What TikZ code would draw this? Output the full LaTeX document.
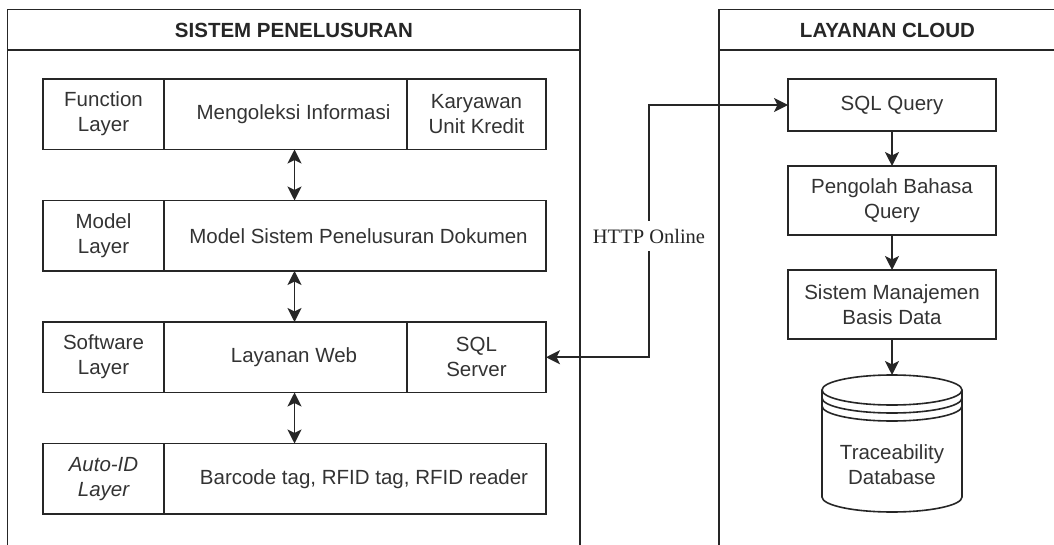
\documentclass[tikz,border=0pt]{standalone}
\usepackage{fontspec}
\setmainfont{Liberation Sans}
\newfontfamily\timesfont{Liberation Serif}
\usetikzlibrary{positioning,calc,arrows.meta}
\tikzset{
  lane/.style={line width=1.6pt,draw=black!85},
  blok/.style={draw=black!85,line width=1.6pt,anchor=north west,inner sep=0pt,outer sep=0pt},
  teks/.style={align=center,text=black!80,font=\fontsize{20.5}{25}\selectfont},
  judul/.style={text=black!85,font=\fontsize{20.5}{25}\selectfont\bfseries},
  httplabel/.style={fill=white,text=black!85,inner ysep=8pt,inner xsep=2pt,font=\timesfont\fontsize{20.5}{25}\selectfont},
  panah/.style={line width=1.6pt,draw=black!85,arrows={-Stealth[length=14pt,width=14pt,inset=3.5pt]}},
  panah2/.style={line width=1.6pt,draw=black!85,arrows={Stealth[length=14pt,width=14pt,inset=3.5pt]-Stealth[length=14pt,width=14pt,inset=3.5pt]}},
}

\begin{document}
\begin{tikzpicture}[x=1pt,y=-1pt]
\useasboundingbox (0,0) rectangle (1054,545);
\clip (0,0) rectangle (1054,545);
% the two lanes, both run off the page
\draw[lane] (7.5,570) -- (7.5,9.5) -- (580,9.5) -- (580,570);
\draw[lane] (7.5,50) -- (580,50);
\node[judul] (sistem) at (294,30) {SISTEM PENELUSURAN};
\draw[lane] (719,570) -- (719,9.5) -- (1070,9.5);
\draw[lane] (719,50) -- (1070,50);
\node[judul] (cloud) at (887.5,30) {LAYANAN CLOUD};

% layers
\node[blok,minimum width=503,minimum height=70.5] (function) at (43,79) {};
\node[blok,minimum width=503,minimum height=70.5] (model) at (43,200.5) {};
\node[blok,minimum width=503,minimum height=70.5] (software) at (43,322) {};
\node[blok,minimum width=503,minimum height=70.5] (autoid) at (43,443.5) {};
\draw[lane] ($(function.north west)+(121,0)$) -- ($(function.south west)+(121,0)$);
\draw[lane] ($(function.north west)+(364,0)$) -- ($(function.south west)+(364,0)$);
\draw[lane] ($(model.north west)+(121,0)$) -- ($(model.south west)+(121,0)$);
\draw[lane] ($(software.north west)+(121,0)$) -- ($(software.south west)+(121,0)$);
\draw[lane] ($(software.north west)+(364,0)$) -- ($(software.south west)+(364,0)$);
\draw[lane] ($(autoid.north west)+(121,0)$) -- ($(autoid.south west)+(121,0)$);

\node[teks] (fname) at (103.5,114) {Function\\Layer};
\node[teks] (fmid) at (293.5,114) {Mengoleksi Informasi};
\node[teks] (fuser) at (476.5,114) {Karyawan\\Unit Kredit};
\node[teks] (mname) at (103.5,236) {Model\\Layer};
\node[teks] (mmid) at (358.5,236) {Model Sistem Penelusuran Dokumen};
\node[teks] (sname) at (103.5,357) {Software\\Layer};
\node[teks] (smid) at (294,357) {Layanan Web};
\node[teks] (sserver) at (476.5,357) {SQL\\Server};
\node[teks] (aname) at (103.5,479) {\itshape Auto-ID\\\itshape Layer};
\node[teks] (amid) at (364,479) {Barcode tag, RFID tag, RFID reader};

\draw[panah2] (function.south) -- (model.north);
\draw[panah2] (model.south) -- (software.north);
\draw[panah2] (software.south) -- (autoid.north);

% cloud side
\node[blok,teks,minimum width=208,minimum height=52] (query) at (788,79) {SQL Query};
\node[blok,teks,minimum width=208,minimum height=69] (pengolah) at (788,166) {Pengolah Bahasa\\Query};
\node[blok,teks,minimum width=208,minimum height=69] (dbms) at (788,270) {Sistem Manajemen\\Basis Data};
\draw[panah] (query.south) -- (pengolah.north);
\draw[panah] (pengolah.south) -- (dbms.north);

% datastore
\coordinate (dbtop) at (892,375);
\draw[lane] (892,390) ellipse[x radius=70,y radius=15];
\draw[lane] (822,390) -- (822,497) arc[start angle=180,end angle=0,x radius=70,y radius=15] -- (962,390);
\draw[lane] (822,398) arc[start angle=180,end angle=0,x radius=70,y radius=15];
\draw[lane] (822,406) arc[start angle=180,end angle=0,x radius=70,y radius=15];
\node[teks] (db) at (892,465) {Traceability\\Database};
\draw[panah] (dbms.south) -- (dbtop);

% link between the lanes
\draw[panah2] (software.east) -- ++(103,0) |- (query.west);
\node[httplabel] (http) at (649,236) {HTTP Online};
\end{tikzpicture}
\end{document}
